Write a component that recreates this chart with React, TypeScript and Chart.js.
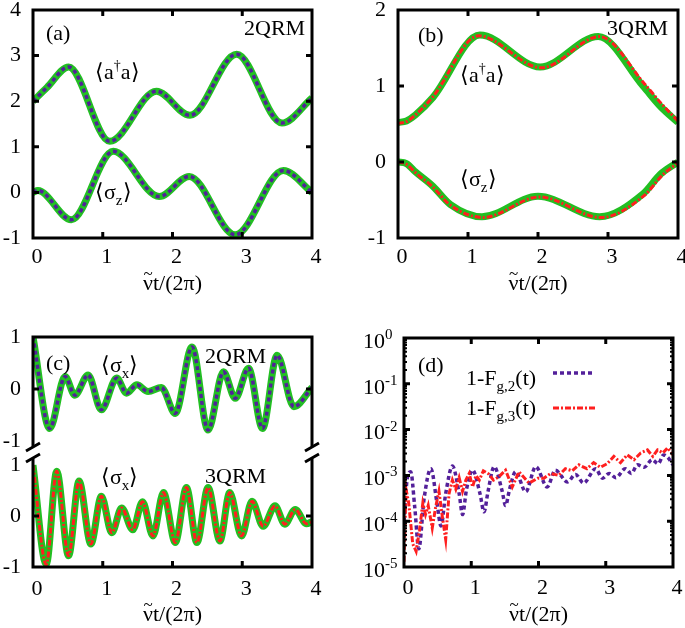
import React, { useEffect, useRef } from 'react';
import { Chart, registerables } from 'chart.js';
Chart.register(...registerables);

const FONT = "'Liberation Serif', 'Times New Roman', serif";
const GREEN = '#22bf22';
const PURPLE = '#53209a';
const RED = '#ff1f1f';
const X_TITLE = 'νt/(2π)';
const X_TICKS = [0, 1, 2, 3, 4];

// Panel (a) 2QRM
const aAdagA_t = [0, 0.2, 0.51, 1.1, 1.77, 2.25, 2.92, 3.57, 4.0];
const aAdagA_v = [2.0, 2.3, 2.75, 1.12, 2.22, 1.69, 3.03, 1.52, 2.07];
const aSigZ_t = [0, 0.07, 0.55, 1.15, 1.81, 2.24, 2.9, 3.59, 4.0];
const aSigZ_v = [0.0, 0.04, -0.6, 0.9, -0.09, 0.35, -0.93, 0.48, 0.0];

// Panel (b) 3QRM
const bAdagA_t = [0, 0.12, 0.25, 0.5, 1.17, 2.03, 2.86, 3.5, 3.75, 4.0];
const bAdagA_v = [0.52, 0.54, 0.62, 0.85, 1.67, 1.25, 1.65, 1.0, 0.73, 0.52];
const bAdagA_red_t = [0, 0.12, 0.25, 0.5, 1.15, 2.05, 2.88, 3.52, 3.77, 4.0];
const bAdagA_red_v = [0.51, 0.53, 0.62, 0.86, 1.66, 1.24, 1.65, 1.03, 0.76, 0.54];
const bSigZ_t = [0, 0.12, 0.25, 0.5, 0.75, 1.2, 2.0, 2.88, 3.5, 3.75, 4.0];
const bSigZ_v = [0.0, -0.02, -0.13, -0.32, -0.56, -0.72, -0.45, -0.72, -0.42, -0.16, 0.0];
const bSigZ_red_t = [0, 0.12, 0.25, 0.5, 0.75, 1.22, 2.02, 2.9, 3.52, 3.78, 4.0];
const bSigZ_red_v = [0.0, -0.03, -0.14, -0.33, -0.57, -0.73, -0.46, -0.73, -0.44, -0.17, -0.01];

// Panel (c) sigma_x
const c2_t = [0, 0.24, 0.46, 0.6, 0.79, 0.98, 1.2, 1.34, 1.49, 1.65, 1.84, 2.04, 2.28, 2.51, 2.73, 2.9, 3.09, 3.29, 3.5, 3.74, 4.0];
const c2_v = [1.0, -0.76, 0.24, -0.12, 0.27, -0.4, 0.21, -0.08, 0.08, -0.05, 0.03, -0.47, 0.81, -0.79, 0.33, -0.18, 0.4, -0.76, 0.65, -0.34, 0.03];
const c3_t = [0, 0.19, 0.34, 0.51, 0.66, 0.83, 0.98, 1.13, 1.27, 1.43, 1.57, 1.72, 1.87, 2.04, 2.2, 2.35, 2.51, 2.68, 2.82, 2.99, 3.14, 3.3, 3.47, 3.61, 3.76, 3.92, 4.0];
const c3_v = [1.0, -0.95, 0.88, -0.78, 0.69, -0.55, 0.39, -0.33, 0.16, -0.27, 0.28, -0.39, 0.46, -0.52, 0.56, -0.52, 0.56, -0.49, 0.46, -0.39, 0.29, -0.2, 0.2, -0.16, 0.13, -0.15, -0.11];

// Panel (d) infidelity
const d2_t = [0, 0.05, 0.1, 0.16, 0.22, 0.3, 0.4, 0.49, 0.55, 0.62, 0.72, 0.82, 0.87, 0.93, 1.02, 1.13, 1.19, 1.25, 1.34, 1.46, 1.51, 1.57, 1.66, 1.81, 1.96, 2.13, 2.25, 2.43, 2.55, 2.67, 2.85, 2.95, 3.05, 3.15, 3.29, 3.38, 3.47, 3.57, 3.69, 3.78, 3.86, 3.93, 4.0];
const d2_v = [1.0e-4, 8.9e-4, 1.2e-3, 2.0e-4, 2.5e-5, 3.2e-4, 1.4e-3, 2.5e-4, 7.9e-5, 4.0e-4, 1.6e-3, 4.0e-4, 1.4e-4, 5.0e-4, 1.3e-3, 4.0e-4, 1.6e-4, 4.5e-4, 1.55e-3, 4.5e-4, 2.2e-4, 5.0e-4, 1.2e-3, 4.4e-4, 1.55e-3, 5.6e-4, 1.3e-3, 7.2e-4, 1.05e-3, 6.8e-4, 1.4e-3, 8.7e-4, 1.1e-3, 8.9e-4, 1.4e-3, 1.1e-3, 1.7e-3, 1.5e-3, 2.2e-3, 1.8e-3, 2.8e-3, 2.4e-3, 1.7e-3];
const d3_t = [0, 0.03, 0.07, 0.13, 0.18, 0.23, 0.28, 0.32, 0.36, 0.42, 0.47, 0.52, 0.57, 0.62, 0.67, 0.72, 0.77, 0.82, 0.87, 0.92, 0.97, 1.02, 1.07, 1.12, 1.18, 1.26, 1.33, 1.41, 1.51, 1.61, 1.71, 1.86, 1.99, 2.08, 2.18, 2.3, 2.4, 2.5, 2.6, 2.72, 2.82, 2.92, 3.02, 3.12, 3.22, 3.32, 3.42, 3.52, 3.62, 3.7, 3.77, 3.85, 3.92, 4.0];
const d3_v = [1.3e-5, 5.0e-4, 2.5e-4, 3.2e-5, 2.2e-5, 6.3e-5, 2.5e-4, 1.4e-4, 2.2e-4, 7.1e-5, 2.0e-4, 4.5e-4, 1.26e-4, 4.0e-5, 4.0e-4, 7.9e-4, 5.0e-4, 8.9e-4, 4.5e-4, 7.9e-4, 1.1e-3, 5.6e-4, 1.0e-3, 7.9e-4, 1.26e-3, 1.07e-3, 7.9e-4, 9.3e-4, 1.3e-3, 5.6e-4, 1.2e-3, 6.8e-4, 8.7e-4, 8.7e-4, 1.1e-3, 1.0e-3, 1.4e-3, 1.26e-3, 1.7e-3, 1.4e-3, 1.9e-3, 1.5e-3, 1.8e-3, 2.6e-3, 1.9e-3, 2.8e-3, 2.2e-3, 3.1e-3, 3.6e-3, 2.6e-3, 3.6e-3, 3.1e-3, 4.0e-3, 2.8e-3];
const D_DECADES = [-5, -4, -3, -2, -1, 0];

const pts = (t: number[], v: number[]) => t.map((x, i) => ({ x, y: v[i] }));

const green = (t: number[], v: number[]) => ({ data: pts(t, v), borderColor: GREEN, borderWidth: 7, cubicInterpolationMode: 'monotone', order: 2 });
const purple = (t: number[], v: number[], smooth = true) => ({ data: pts(t, v), borderColor: PURPLE, borderWidth: 3.5, borderDash: [4, 3], cubicInterpolationMode: smooth ? 'monotone' : 'default', tension: 0, order: 1 });
const red = (t: number[], v: number[], smooth = true) => ({ data: pts(t, v), borderColor: RED, borderWidth: 3, borderDash: [6, 2, 2, 2], cubicInterpolationMode: smooth ? 'monotone' : 'default', tension: 0, order: 0 });

const framePlugin = {
  id: 'frame',
  afterDatasetsDraw(chart: any, _a: any, o: any) {
    const { ctx, chartArea, scales } = chart;
    const { left, right, top, bottom } = chartArea;
    const s = o.sides || { top: true, bottom: true, left: true, right: true };
    ctx.save();
    ctx.strokeStyle = '#000';
    ctx.lineWidth = 3;
    ctx.lineCap = 'square';
    ctx.setLineDash([]);
    ctx.beginPath();
    if (s.top) { ctx.moveTo(left, top); ctx.lineTo(right, top); }
    if (s.bottom) { ctx.moveTo(left, bottom); ctx.lineTo(right, bottom); }
    if (s.left) { ctx.moveTo(left, top); ctx.lineTo(left, bottom); }
    if (s.right) { ctx.moveTo(right, top); ctx.lineTo(right, bottom); }
    ctx.stroke();
    ctx.lineCap = 'butt';
    ctx.beginPath();
    const L = 6;
    for (const v of o.xTicks || []) {
      const p = scales.x.getPixelForValue(v);
      if (s.bottom) { ctx.moveTo(p, bottom); ctx.lineTo(p, bottom - L); }
      if (s.top && o.topTicks !== false) { ctx.moveTo(p, top); ctx.lineTo(p, top + L); }
    }
    for (const v of o.yTicks || []) {
      const p = scales.y.getPixelForValue(v);
      ctx.moveTo(left, p); ctx.lineTo(left + L, p);
      ctx.moveTo(right, p); ctx.lineTo(right - L, p);
    }
    ctx.stroke();
    if (o.minorY) {
      ctx.lineWidth = 2;
      ctx.beginPath();
      for (const v of o.minorY) {
        const p = scales.y.getPixelForValue(v);
        ctx.moveTo(left, p); ctx.lineTo(left + 3, p);
        ctx.moveTo(right, p); ctx.lineTo(right - 3, p);
      }
      ctx.stroke();
    }
    if (o.breaks) {
      ctx.lineWidth = 3;
      ctx.beginPath();
      for (const x of [left, right]) {
        for (const dy of o.breaks) {
          ctx.moveTo(x - 7, top + dy + 4);
          ctx.lineTo(x + 7, top + dy - 4);
        }
      }
      ctx.stroke();
    }
    if (o.legend) {
      for (const it of o.legend) {
        ctx.strokeStyle = it.color;
        ctx.lineWidth = it.width;
        ctx.setLineDash(it.dash);
        ctx.beginPath();
        ctx.moveTo(left + it.x0, top + it.y);
        ctx.lineTo(left + it.x1, top + it.y);
        ctx.stroke();
      }
      ctx.setLineDash([]);
    }
    ctx.fillStyle = '#000';
    if (o.logLabels) {
      for (const e of o.logLabels) {
        const p = scales.y.getPixelForValue(Math.pow(10, e));
        ctx.font = `22px ${FONT}`;
        ctx.textAlign = 'right';
        ctx.textBaseline = 'middle';
        ctx.fillText('10', left - 19, p + 4);
        ctx.font = `15px ${FONT}`;
        ctx.textAlign = 'left';
        ctx.fillText(String(e), left - 19, p - 3);
      }
    }
    if (o.titleTilde && scales.x.options.display) {
      const xs = scales.x;
      ctx.font = `22px ${FONT}`;
      const w = ctx.measureText(X_TITLE).width;
      const wv = ctx.measureText('ν').width;
      const cx = (xs.left + xs.right) / 2;
      const ty = xs.bottom - 13.2 - (o.titlePad ?? 0);
      ctx.font = `17px ${FONT}`;
      ctx.textAlign = 'center';
      ctx.textBaseline = 'middle';
      ctx.fillText('~', cx - w / 2 + wv / 2, ty - 9);
    }
    ctx.restore();
  },
};

interface Cfg {
  datasets: any[];
  padding: any;
  yWidth: number;
  xHeight: number;
  xDisplay: boolean;
  xPad?: number;
  yPad?: number;
  yMin: number;
  yMax: number;
  yTicks: number[];
  yType?: string;
  yLabels?: boolean;
  titlePadBottom?: number;
  frame: any;
}

function makeConfig(c: Cfg): any {
  return {
    type: 'line',
    data: { datasets: c.datasets },
    plugins: [framePlugin],
    options: {
      animation: false,
      responsive: false,
      maintainAspectRatio: false,
      layout: { padding: c.padding },
      elements: { point: { radius: 0 } },
      plugins: {
        legend: { display: false },
        tooltip: { enabled: false },
        frame: { ...c.frame, titleTilde: true, titlePad: c.titlePadBottom ?? 3 },
      },
      scales: {
        x: {
          type: 'linear', min: 0, max: 4, display: c.xDisplay,
          grid: { display: false, drawTicks: false }, border: { display: false },
          ticks: { font: { family: FONT, size: 22 }, color: '#000', padding: c.xPad ?? 6, maxRotation: 0, labelOffset: 4 },
          afterBuildTicks: (s: any) => { s.ticks = X_TICKS.map((v) => ({ value: v })); },
          afterFit: (s: any) => { s.height = c.xHeight; s.paddingLeft = 0; s.paddingRight = 0; },
          title: { display: true, text: X_TITLE, color: '#000', font: { family: FONT, size: 22 }, padding: { top: 0, bottom: c.titlePadBottom ?? 3 } },
        },
        y: {
          type: c.yType || 'linear', min: c.yMin, max: c.yMax,
          grid: { display: false, drawTicks: false }, border: { display: false },
          ticks: { display: c.yLabels !== false, font: { family: FONT, size: 22 }, color: '#000', padding: c.yPad ?? 12 },
          afterBuildTicks: (s: any) => { s.ticks = c.yTicks.map((v) => ({ value: v })); },
          afterFit: (s: any) => { s.width = c.yWidth; s.paddingTop = 0; s.paddingBottom = 0; },
        },
      },
    },
  };
}

function ChartBox({ left, top, width, height, cfg }: any) {
  const ref = useRef<HTMLCanvasElement>(null);
  useEffect(() => {
    const chart = new Chart(ref.current as HTMLCanvasElement, makeConfig(cfg));
    return () => chart.destroy();
  }, []);
  return <canvas ref={ref} width={width} height={height} style={{ position: 'absolute', left, top, width, height }} />;
}

function Label({ left, top, children, size = 22 }: any) {
  return (
    <div style={{ position: 'absolute', left, top, fontFamily: FONT, fontSize: size, lineHeight: `${size}px`, whiteSpace: 'nowrap', color: '#000' }}>
      {children}
    </div>
  );
}

const sup = { fontSize: 14, verticalAlign: 9, lineHeight: '0px' } as const;
const sub = { fontSize: 15, verticalAlign: -6, lineHeight: '0px' } as const;

const cfgA: Cfg = {
  datasets: [purple(aAdagA_t, aAdagA_v), purple(aSigZ_t, aSigZ_v), green(aAdagA_t, aAdagA_v), green(aSigZ_t, aSigZ_v)],
  padding: { top: 10, right: 28, left: 0, bottom: 0 },
  yWidth: 33, xHeight: 62, xDisplay: true, xPad: 6, yPad: 12,
  yMin: -1, yMax: 4, yTicks: [-1, 0, 1, 2, 3, 4],
  frame: { xTicks: [1, 2, 3], yTicks: [0, 1, 2, 3] },
};
const cfgB: Cfg = {
  datasets: [red(bAdagA_red_t, bAdagA_red_v), red(bSigZ_red_t, bSigZ_red_v), green(bAdagA_t, bAdagA_v), green(bSigZ_t, bSigZ_v)],
  padding: { top: 10, right: 7, left: 0, bottom: 0 },
  yWidth: 58, xHeight: 62, xDisplay: true, xPad: 6, yPad: 12,
  yMin: -1, yMax: 2, yTicks: [-1, 0, 1, 2],
  frame: { xTicks: [1, 2, 3], yTicks: [0, 1] },
};
const cfgCTop: Cfg = {
  datasets: [purple(c2_t, c2_v), green(c2_t, c2_v)],
  padding: { top: 27, right: 28, left: 0, bottom: 15 },
  yWidth: 33, xHeight: 0, xDisplay: false, yPad: 12,
  yMin: -1.077, yMax: 1, yTicks: [-1, 0, 1],
  frame: { sides: { top: true, bottom: false, left: true, right: true }, topTicks: false, xTicks: [], yTicks: [0] },
};
const cfgCBot: Cfg = {
  datasets: [red(c3_t, c3_v), green(c3_t, c3_v)],
  padding: { top: 20, right: 28, left: 0, bottom: 0 },
  yWidth: 33, xHeight: 61, xDisplay: true, xPad: 9, yPad: 12, titlePadBottom: 0,
  yMin: -1, yMax: 1.1, yTicks: [-1, 0, 1],
  frame: { sides: { top: false, bottom: true, left: true, right: true }, xTicks: [1, 2, 3], yTicks: [0], breaks: [-13, -2] },
};
const minorD: number[] = [];
for (const e of [-5, -4, -3, -2, -1]) for (let m = 2; m <= 9; m++) minorD.push(m * Math.pow(10, e));
const cfgD: Cfg = {
  datasets: [red(d3_t, d3_v, false), purple(d2_t, d2_v, true)],
  padding: { top: 28, right: 12, left: 0, bottom: 0 },
  yWidth: 64, xHeight: 61, xDisplay: true, xPad: 8, yLabels: false, titlePadBottom: 0,
  yType: 'logarithmic', yMin: 1e-5, yMax: 1, yTicks: D_DECADES.map((e) => Math.pow(10, e)),
  frame: {
    xTicks: [1, 2, 3], yTicks: [1e-4, 1e-3, 1e-2, 1e-1], minorY: minorD, logLabels: D_DECADES,
    legend: [
      { color: PURPLE, width: 3.5, dash: [4, 3], x0: 149, x1: 189, y: 35 },
      { color: RED, width: 3, dash: [6, 2, 2, 2], x0: 149, x1: 191, y: 70 },
    ],
  },
};

export default function App() {
  return (
    <div style={{ position: 'absolute', left: 0, top: 0, width: 685, height: 628, background: '#fff', overflow: 'hidden' }}>
      <ChartBox left={0} top={0} width={340} height={300} cfg={cfgA} />
      <ChartBox left={340} top={0} width={345} height={300} cfg={cfgB} />
      <ChartBox left={0} top={310} width={340} height={150} cfg={cfgCTop} />
      <ChartBox left={0} top={440} width={340} height={188} cfg={cfgCBot} />
      <ChartBox left={340} top={310} width={345} height={318} cfg={cfgD} />

      <Label left={46} top={22}>(a)</Label>
      <Label left={244} top={17}>2QRM</Label>
      <Label left={95} top={61}>⟨a<sup style={sup}>†</sup>a⟩</Label>
      <Label left={95} top={181}>⟨σ<sub style={sub}>z</sub>⟩</Label>

      <Label left={418} top={24}>(b)</Label>
      <Label left={607} top={17}>3QRM</Label>
      <Label left={460} top={64}>⟨a<sup style={sup}>†</sup>a⟩</Label>
      <Label left={460} top={168}>⟨σ<sub style={sub}>z</sub>⟩</Label>

      <Label left={46} top={352}>(c)</Label>
      <Label left={101} top={354}>⟨σ<sub style={sub}>x</sub>⟩</Label>
      <Label left={205} top={345}>2QRM</Label>
      <Label left={101} top={466}>⟨σ<sub style={sub}>x</sub>⟩</Label>
      <Label left={205} top={465}>3QRM</Label>

      <Label left={418} top={354}>(d)</Label>
      <Label left={466} top={367}>1-F<sub style={sub}>g,2</sub>(t)</Label>
      <Label left={466} top={397}>1-F<sub style={sub}>g,3</sub>(t)</Label>
    </div>
  );
}
